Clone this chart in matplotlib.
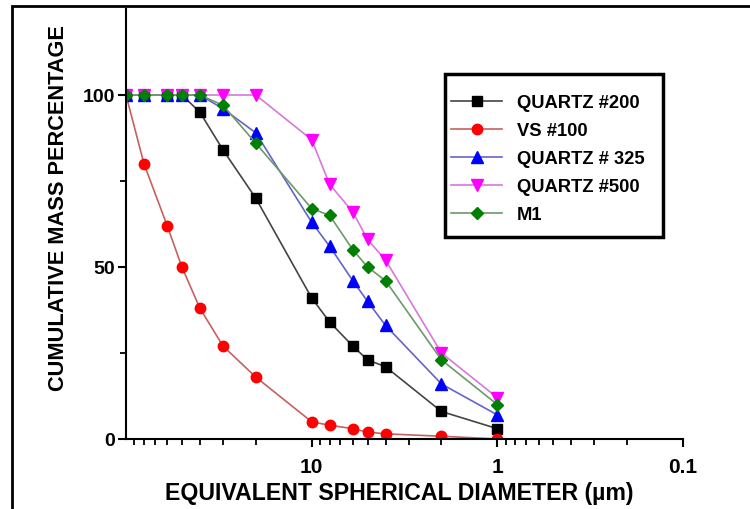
import matplotlib
matplotlib.use("Agg")
import matplotlib.pyplot as plt
from matplotlib.patches import Rectangle
from matplotlib.ticker import LogLocator, NullFormatter, FixedLocator

plt.rcParams['font.family'] = ['Liberation Sans', 'DejaVu Sans']
plt.rcParams['font.weight'] = 'bold'

# particle size (um) and cumulative mass %
size_vs = [100, 80, 60, 50, 40, 30, 20, 10, 8, 6, 5, 4, 2, 1]
vs100 = [100, 80, 62, 50, 38, 27, 18, 5, 4, 3, 2, 1.5, 0.8, 0]

size_q = [100, 80, 60, 50, 40, 30, 20, 10, 8, 6, 5, 4, 2, 1]
q200 = [100, 100, 100, 100, 95, 84, 70, 41, 34, 27, 23, 21, 8, 3]
q325 = [100, 100, 100, 100, 100, 96, 89, 63, 56, 46, 40, 33, 16, 7]
q500 = [100, 100, 100, 100, 100, 100, 100, 87, 74, 66, 58, 52, 25, 12]
m1 = [100, 100, 100, 100, 100, 97, 86, 67, 65, 55, 50, 46, 23, 10]

labels = ['QUARTZ #200', 'VS #100', 'QUARTZ # 325', 'QUARTZ #500', 'M1']

fig = plt.figure(figsize=(7.5, 5.1), dpi=100)
ax = fig.add_axes([126/750, 1-440/510, (683-126)/750, 430/510])

# outer frame of the figure (cropped on the right/bottom)
fig.patches.append(Rectangle((12/750, -0.2), 1.2, 1.2 - 7/510, transform=fig.transFigure,
                             fill=False, edgecolor='black', lw=2, clip_on=False))

series = [
    (size_q, q200, 's', 'black', '#444444', 6.5),
    (size_vs, vs100, 'o', 'red', '#c86060', 7.5),
    (size_q, q325, '^', 'blue', '#6464c8', 8),
    (size_q, q500, 'v', '#ff00ff', '#d878d8', 8),
    (size_q, m1, 'D', 'green', '#6a9a6a', 6.5),
]
for (xs, ys, mk, mc, lc, ms), lab in zip(series, labels):
    ax.plot(xs, ys, color=lc, lw=1.2, marker=mk, ms=ms,
            markerfacecolor=mc, markeredgecolor=mc, label=lab)

ax.set_xscale('log')
ax.set_xlim(100, 0.1)
ax.set_ylim(0, 125)
ax.xaxis.set_major_locator(FixedLocator([10, 1, 0.1]))
ax.set_xticklabels(['10', '1', '0.1'])
ax.xaxis.set_minor_locator(LogLocator(base=10, subs=range(2, 10)))
ax.xaxis.set_minor_formatter(NullFormatter())
ax.set_yticks([0, 50, 100])
ax.set_yticks([25, 75], minor=True)

for s in ['top', 'right']:
    ax.spines[s].set_visible(False)
for s in ['left', 'bottom']:
    ax.spines[s].set_linewidth(1.5)

ax.tick_params(which='major', length=6, width=1.5, labelsize=14, pad=2)
ax.tick_params(axis='x', which='major', pad=7, labelsize=15)
ax.tick_params(which='minor', length=4, width=1.3)

ax.set_xlabel('EQUIVALENT SPHERICAL DIAMETER (µm)', fontsize=16.7, fontweight='bold')
ax.set_ylabel('CUMULATIVE MASS PERCENTAGE', fontsize=15.7, fontweight='bold')
ax.xaxis.set_label_coords(0.49, -0.098)
ax.yaxis.set_label_coords(-0.102, 0.54)

# legend box drawn separately so the padding can be asymmetric like the original
fig.patches.append(Rectangle((445/750, 1-238/510), (663-445)/750, (238-75)/510,
                             transform=fig.transFigure, fill=False,
                             edgecolor='black', lw=2.5))
leg = ax.legend(loc='upper left', bbox_to_anchor=(451/750, 1-95/510),
                bbox_transform=fig.transFigure, frameon=False, fontsize=13.2,
                handlelength=2.8, labelspacing=0.6, borderpad=0, borderaxespad=0,
                handletextpad=0.8)
for t in leg.get_texts():
    t.set_fontweight('bold')

fig.savefig('out.png', dpi=100)
